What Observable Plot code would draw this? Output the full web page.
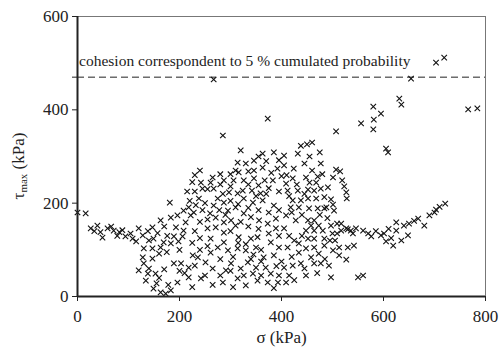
<!DOCTYPE html>
<html>
<head>
<meta charset="utf-8">
<script src="https://cdn.jsdelivr.net/npm/d3@7"></script>
<script src="https://cdn.jsdelivr.net/npm/@observablehq/plot@0.6"></script>
<style>
  html, body { margin: 0; padding: 0; background: #fff; }
  #chart { width: 500px; height: 350px; }
</style>
</head>
<body>
<div id="chart"></div>
<script>
// σ (kPa) and τmax (kPa)
const sigma = [
  0,16,181,285,373,267,654,703,719,766,784,580,595,631,635,507,556,581,580,605,609,
  26,39,49,59,71,82,94,104,108,120,128,147,149,163,183,196,208,218,222,212,193,208,189,206,169,183,163,147,130,128,147,130,120,138,153,134,149,163,173,183,196,189,203,218,230,226,236,251,218,242,285,291,301,
  33,45,66,78,88,115,138,157,140,170,176,198,160,175,200,140,160,170,178,155,210,225,200,
  242,261,267,245,238,275,287,267,287,306,320,314,330,346,363,385,363,346,316,326,346,367,383,392,324,342,359,314,297,326,344,363,385,310,295,271,287,301,326,310,287,271,255,261,287,275,261,295,314,330,350,365,385,379,356,373,389,389,340,353,316,334,350,369,326,344,353,330,314,373,393,379,
  255,280,300,250,232,228,245,260,278,300,335,355,375,395,335,355,375,395,340,320,335,355,375,395,300,315,330,345,360,395,305,280,265,280,300,320,340,360,390,255,240,230,240,255,225,240,265,250,305,360,385,395,400,310,335,355,300,280,265,230,225,215,220,240,370,395,380,400,230,290,315,350,370,285,
  405,432,438,450,460,475,477,507,515,501,519,523,527,528,497,501,503,488,491,471,468,448,422,424,405,409,412,432,452,464,477,484,468,452,438,422,418,434,454,471,484,409,428,452,464,458,473,497,509,448,464,481,509,517,530,405,452,464,484,484,501,513,412,434,434,448,464,473,458,438,422,405,464,477,493,448,409,497,550,560,527,542,530,513,
  517,527,536,546,560,576,595,601,619,635,648,625,625,640,650,668,680,690,703,721,
  415,425,440,420,445,415,425,470,485,495,440,420,445,460,410,430,455,475,490,500,505,540,570,585,610,615,605,660,700,710,455,480,415,445
];
const tau = [
  180,178,201,345,381,465,467,501,512,401,403,407,392,424,411,354,371,379,358,317,309,
  146,152,126,146,141,138,129,135,124,146,131,148,124,163,169,174,184,191,174,159,148,141,129,129,116,114,105,103,103,84,81,71,56,49,49,34,17,9,6,13,30,71,71,62,66,88,84,73,41,39,30,56,71,
  140,138,150,130,142,118,140,136,120,150,130,118,92,95,100,60,40,58,25,28,50,20,55,
  244,244,231,231,210,210,201,195,249,249,313,287,285,291,306,309,276,270,266,249,253,249,249,274,227,227,221,221,223,210,201,206,195,191,184,169,159,163,178,152,137,148,146,124,116,105,94,99,103,99,105,84,88,116,163,156,167,146,124,127,127,73,62,62,45,49,34,24,39,30,30,49,
  230,240,236,200,196,180,185,178,185,205,240,238,232,225,190,185,180,185,170,160,150,145,135,130,140,115,112,90,100,105,85,80,60,45,55,60,80,75,65,108,125,140,160,165,115,100,25,45,20,45,18,45,75,270,268,300,262,262,255,260,245,225,205,270,290,292,265,258,225,175,198,215,220,220,
  302,306,323,326,330,309,285,272,268,255,249,236,223,210,208,197,184,191,234,257,244,255,253,274,281,242,227,227,229,227,231,213,210,210,206,206,191,191,189,189,189,174,163,163,163,152,152,152,156,141,141,141,135,141,144,146,124,124,124,109,99,105,105,114,94,103,105,92,84,71,66,62,71,71,66,45,30,41,41,45,79,109,105,88,
  156,146,141,146,141,129,131,135,109,120,131,141,159,152,156,167,152,174,186,199,
  130,120,130,85,60,45,35,50,80,120,175,180,285,270,260,240,244,175,168,135,120,135,135,140,145,125,118,162,180,192,300,262,215,220
];
const xTicks = [0, 200, 400, 600, 800];
const yTicks = [0, 200, 400, 600];
const cohesion = [470];
const cohesionLabel = ["cohesion correspondent to 5 % cumulated probability"];
const xLabel = "σ (kPa)";
const FONT = "Liberation Serif";

const pts = sigma.map((s, i) => ({s, t: tau[i]}));

const chart = Plot.plot({
  width: 500,
  height: 350,
  marginLeft: 77,
  marginRight: 15,
  marginTop: 16,
  marginBottom: 54,
  style: {fontFamily: FONT, fontSize: "16px", color: "#222", background: "#fff"},
  x: {domain: [0, 800]},
  y: {domain: [0, 600]},
  marks: [
    Plot.frame({stroke: "#777", strokeWidth: 1}),
    Plot.ruleY(cohesion, {stroke: "#222", strokeDasharray: "7,4", strokeWidth: 1}),
    Plot.text(cohesionLabel, {x: 3, y: 505, text: d => d, textAnchor: "start", fontSize: 15.5, fill: "#222"}),
    Plot.dot(pts, {x: "s", y: "t", symbol: "times", r: 2.6, stroke: "#111", strokeWidth: 1.1}),
    Plot.ruleX([0], {stroke: "#222", strokeWidth: 2}),
    Plot.ruleY([0], {stroke: "#222", strokeWidth: 2}),
    Plot.axisX(xTicks, {tickSize: 5, tickPadding: 8, label: null, fontSize: 17, stroke: "#222"}),
    Plot.axisY(yTicks, {tickSize: 5, tickPadding: 4, label: null, fontSize: 17, stroke: "#222"}),
    Plot.axisY(cohesion, {tickSize: 5, tickFormat: () => "", label: null, stroke: "#222"}),
    Plot.text([xLabel], {frameAnchor: "bottom", dy: 46, text: d => d, fontSize: 17, fill: "#222"})
  ]
});
document.getElementById("chart").appendChild(chart);

// y axis title with subscript
const svg = d3.select(chart);
const yl = svg.append("text")
  .attr("transform", "translate(24,166) rotate(-90)")
  .attr("text-anchor", "middle")
  .attr("font-size", 17)
  .attr("fill", "#222");
yl.append("tspan").text("τ");
yl.append("tspan").attr("font-size", 11).attr("dy", 3).text("max");
yl.append("tspan").attr("dy", -3).text(" (kPa)");

svg.attr("font-family", FONT);
svg.selectAll("text").style("font-family", FONT);
</script>
</body>
</html>
